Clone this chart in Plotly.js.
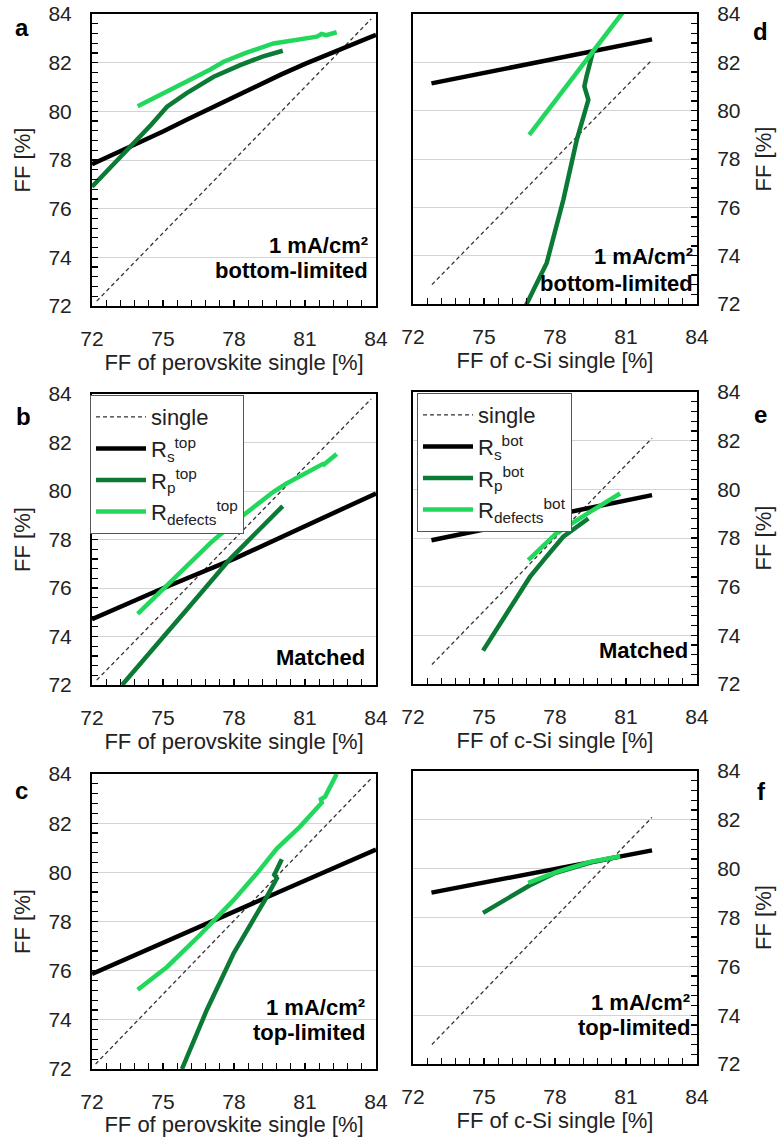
<!DOCTYPE html>
<html>
<head>
<meta charset="utf-8">
<script src="https://cdn.plot.ly/plotly-3.0.1.min.js"></script>
<style>html,body{margin:0;padding:0;background:#fff;}#chart{width:778px;height:1137px;}</style>
</head>
<body>
<div id="chart"></div>
<script>
// ---------- Data ----------
// Panel a: 1 mA/cm2, bottom-limited, vs FF of perovskite single
const a_single_x = [72.2, 83.8];
const a_single_y = [72.2, 83.8];
const a_Rs_x = [72, 73, 74, 75, 76, 77, 78, 79, 80, 81, 82, 83, 84];
const a_Rs_y = [77.83, 78.27, 78.72, 79.17, 79.65, 80.12, 80.6, 81.07, 81.52, 81.95, 82.35, 82.75, 83.14];
const a_Rp_x = [72, 73, 73.76, 74.5, 75.17, 76, 77.14, 78.26, 79.2, 80.06];
const a_Rp_y = [76.9, 77.9, 78.68, 79.45, 80.19, 80.75, 81.42, 81.9, 82.25, 82.49];
const a_Rd_x = [73.93, 75, 76.01, 77, 77.56, 78.5, 79.67, 80.5, 81.5, 81.7, 81.9, 82.34];
const a_Rd_y = [80.21, 80.72, 81.22, 81.72, 82.04, 82.4, 82.79, 82.9, 83.07, 83.18, 83.13, 83.25];

// Panel d: 1 mA/cm2, bottom-limited, vs FF of c-Si single
const d_single_x = [72.8, 82.1];
const d_single_y = [72.8, 82.1];
const d_Rs_x = [72.78, 76.24, 79.6, 82.1];
const d_Rs_y = [81.13, 81.8, 82.48, 82.95];
const d_Rp_x = [76.75, 77.65, 78.35, 78.92, 79.41, 79.24, 79.33, 79.55, 79.62];
const d_Rp_y = [71.9, 73.7, 76.3, 78.79, 80.45, 81.0, 81.41, 82.37, 82.51];
const d_Rd_x = [76.91, 79.6, 80.85];
const d_Rd_y = [79.0, 82.44, 84.05];

// Panel b: matched, vs FF of perovskite single
const b_single_x = [72.2, 83.8];
const b_single_y = [72.2, 83.8];
const b_Rs_x = [72, 75, 78, 81, 84];
const b_Rs_y = [74.71, 75.99, 77.2, 78.55, 79.9];
const b_Rp_x = [73.27, 74, 75, 76, 77, 77.84, 78.5, 79.2, 79.75, 79.9, 79.8, 80.06];
const b_Rp_y = [72, 72.85, 73.97, 75.1, 76.25, 77.2, 77.85, 78.55, 79.05, 79.25, 79.15, 79.38];
const b_Rd_x = [73.93, 75, 76, 77, 78, 79, 79.67, 80.2, 80.79, 81.5, 81.8, 81.75, 82.34];
const b_Rd_y = [74.93, 75.95, 76.95, 77.85, 78.7, 79.45, 79.97, 80.3, 80.6, 80.97, 81.14, 81.05, 81.53];

// Panel e: matched, vs FF of c-Si single
const e_single_x = [72.8, 82.1];
const e_single_y = [72.8, 82.1];
const e_Rs_x = [72.78, 77.4, 82.1];
const e_Rs_y = [77.91, 78.85, 79.76];
const e_Rp_x = [74.96, 75.95, 76.94, 77.58, 78.35, 79.41];
const e_Rp_y = [73.37, 74.9, 76.4, 77.16, 78.05, 78.8];
const e_Rd_x = [76.87, 78.07, 79.48, 80.75];
const e_Rd_y = [77.09, 78.2, 79.07, 79.83];

// Panel c: 1 mA/cm2, top-limited, vs FF of perovskite single
const c_single_x = [72.15, 83.82];
const c_single_y = [72.2, 83.84];
const c_Rs_x = [72, 75, 78, 81, 84];
const c_Rs_y = [75.87, 77.13, 78.4, 79.66, 80.93];
const c_Rp_x = [75.8, 76.85, 77.98, 78.82, 79.39, 79.81, 79.7, 79.78, 80.02];
const c_Rp_y = [72, 74.4, 76.7, 78.06, 79.01, 79.76, 79.9, 80.05, 80.53];
const c_Rd_x = [73.93, 75.17, 76.57, 77.98, 78.96, 79.81, 80.79, 81.71, 81.67, 81.85, 82.34];
const c_Rd_y = [75.22, 76.15, 77.46, 78.87, 79.95, 80.97, 81.86, 82.83, 82.97, 83.08, 84.0];

// Panel f: 1 mA/cm2, top-limited, vs FF of c-Si single
const f_single_x = [72.8, 82.1];
const f_single_y = [72.8, 82.1];
const f_Rs_x = [72.78, 77.4, 82.1];
const f_Rs_y = [79.02, 79.9, 80.75];
const f_Rp_x = [74.96, 76, 76.94, 78, 79.5, 80.75];
const f_Rp_y = [78.19, 78.8, 79.32, 79.82, 80.25, 80.5];
const f_Rd_x = [76.87, 78.07, 79.48, 80.75];
const f_Rd_y = [79.42, 79.87, 80.28, 80.51];

const x_tick_step = 3;
const y_tick_step = 2;
const x_title_top = 'FF of perovskite single [%]';
const x_title_bot = 'FF of c-Si single [%]';
const y_title = 'FF [%]';

// ---------- Styling ----------
const FONT = 'Liberation Sans, Arial, sans-serif';
const C_BLACK = '#000000';
const C_DARK = '#0b7a34';
const C_LIGHT = '#22d85c';

function panel(xa, ya, s, rs, rp, rd, legendId, tag) {
  const show = !!legendId;
  const common = {type: 'scatter', mode: 'lines', xaxis: xa, yaxis: ya, showlegend: show, hoverinfo: 'skip'};
  if (show) common.legend = legendId;
  return [
    Object.assign({}, common, {x: s[0], y: s[1], name: 'single', line: {color: '#333', width: 1.3, dash: '4px,3px'}}),
    Object.assign({}, common, {x: rs[0], y: rs[1], name: 'R<sub>s</sub><sup>' + tag + '</sup>', line: {color: C_BLACK, width: 4.5}}),
    Object.assign({}, common, {x: rp[0], y: rp[1], name: 'R<sub>p</sub><sup>' + tag + '</sup>', line: {color: C_DARK, width: 4.5}}),
    Object.assign({}, common, {x: rd[0], y: rd[1], name: 'R<sub>defects</sub><sup>' + tag + '</sup>', line: {color: C_LIGHT, width: 4.5}})
  ];
}

const data = [].concat(
  panel('x', 'y', [a_single_x, a_single_y], [a_Rs_x, a_Rs_y], [a_Rp_x, a_Rp_y], [a_Rd_x, a_Rd_y], null, 'top'),
  panel('x2', 'y2', [d_single_x, d_single_y], [d_Rs_x, d_Rs_y], [d_Rp_x, d_Rp_y], [d_Rd_x, d_Rd_y], null, 'bot'),
  panel('x3', 'y3', [b_single_x, b_single_y], [b_Rs_x, b_Rs_y], [b_Rp_x, b_Rp_y], [b_Rd_x, b_Rd_y], 'legend', 'top'),
  panel('x4', 'y4', [e_single_x, e_single_y], [e_Rs_x, e_Rs_y], [e_Rp_x, e_Rp_y], [e_Rd_x, e_Rd_y], 'legend2', 'bot'),
  panel('x5', 'y5', [c_single_x, c_single_y], [c_Rs_x, c_Rs_y], [c_Rp_x, c_Rp_y], [c_Rd_x, c_Rd_y], null, 'top'),
  panel('x6', 'y6', [f_single_x, f_single_y], [f_Rs_x, f_Rs_y], [f_Rp_x, f_Rp_y], [f_Rd_x, f_Rd_y], null, 'bot')
);

const W = 778, H = 1137;
function xd(l, r) { return [l / W, r / W]; }
function yd(t, b) { return [1 - b / H, 1 - t / H]; }

function xaxis(dom, anchor, title) {
  return {
    domain: dom, anchor: anchor, range: [72, 84], tickmode: 'linear', tick0: 72, dtick: x_tick_step,
    ticks: 'inside', ticklen: 6, tickwidth: 1.2, tickcolor: '#000',
    minor: {tickmode: 'linear', tick0: 72, dtick: 0.6, ticks: 'inside', ticklen: 6, tickwidth: 1.2, tickcolor: '#000', showgrid: false},
    showline: true, linecolor: '#000', linewidth: 2, mirror: true,
    showgrid: false, zeroline: false, ticklabelstandoff: 13,
    tickfont: {family: FONT, size: 21, color: '#222'},
    title: {text: title, font: {family: FONT, size: 22, color: '#222'}, standoff: 0}
  };
}
function yaxis(dom, anchor, side) {
  return {
    domain: dom, anchor: anchor, side: side, range: [72, 84], tickmode: 'linear', tick0: 72, dtick: y_tick_step,
    ticks: 'inside', ticklen: 6, tickwidth: 1.2, tickcolor: '#000',
    minor: {tickmode: 'linear', tick0: 72, dtick: 0.4, ticks: 'inside', ticklen: 6, tickwidth: 1.2, tickcolor: '#000', showgrid: false},
    showline: true, linecolor: '#000', linewidth: 2, mirror: true,
    showgrid: true, gridcolor: '#d4d4d4', gridwidth: 1, zeroline: false, ticklabelstandoff: 14,
    tickfont: {family: FONT, size: 21, color: '#222'},
    title: {text: y_title, font: {family: FONT, size: 22, color: '#222'}, standoff: side === 'right' ? 16 : 12}
  };
}

const L = xd(92, 376), R = xd(413, 697);

function note(text, x, y) {
  return {xref: 'paper', yref: 'paper', x: x, y: y, xanchor: 'right', yanchor: 'middle', showarrow: false,
    text: '<b>' + text + '</b>', font: {family: FONT, size: 22, color: '#000'}};
}
function letter(text, x, y) {
  return {xref: 'paper', yref: 'paper', x: x, y: y, xanchor: 'center', yanchor: 'middle', showarrow: false,
    text: '<b>' + text + '</b>', font: {family: FONT, size: 24, color: '#000'}};
}

const legendCommon = {
  bgcolor: '#ffffff', bordercolor: '#555', borderwidth: 1, xanchor: 'left', yanchor: 'top',
  font: {family: FONT, size: 22, color: '#222'}, itemwidth: 50, tracegroupgap: 0
};

const layout = {
  width: W, height: H, margin: {l: 0, r: 0, t: 0, b: 0},
  paper_bgcolor: '#fff', plot_bgcolor: '#fff', showlegend: true,
  font: {family: FONT, color: '#222'},
  xaxis: xaxis(L, 'y', x_title_top), yaxis: yaxis(yd(14, 306), 'x', 'left'),
  xaxis2: xaxis(R, 'y2', x_title_bot), yaxis2: yaxis(yd(14, 304), 'x2', 'right'),
  xaxis3: xaxis(L, 'y3', x_title_top), yaxis3: yaxis(yd(394, 685), 'x3', 'left'),
  xaxis4: xaxis(R, 'y4', x_title_bot), yaxis4: yaxis(yd(392, 684), 'x4', 'right'),
  xaxis5: xaxis(L, 'y5', x_title_top), yaxis5: yaxis(yd(774, 1069), 'x5', 'left'),
  xaxis6: xaxis(R, 'y6', x_title_bot), yaxis6: yaxis(yd(771, 1064), 'x6', 'right'),
  legend: Object.assign({}, legendCommon, {x: 90 / W, y: 1 - 395 / H}),
  legend2: Object.assign({}, legendCommon, {x: 417 / W, y: 1 - 393 / H}),
  annotations: [
    letter('a', 22 / W, 1 - 27 / H), letter('d', 760 / W, 1 - 32 / H),
    letter('b', 23 / W, 1 - 417 / H), letter('e', 760 / W, 1 - 414 / H),
    letter('c', 21 / W, 1 - 790 / H), letter('f', 761 / W, 1 - 791 / H),
    note('1 mA/cm²', 370 / W, 1 - 245 / H), note('bottom-limited', 370 / W, 1 - 270 / H),
    note('1 mA/cm²', 695 / W, 1 - 257 / H), note('bottom-limited', 695 / W, 1 - 283 / H),
    note('Matched', 367 / W, 1 - 657 / H), note('Matched', 690 / W, 1 - 650 / H),
    note('1 mA/cm²', 367 / W, 1 - 1007 / H), note('top-limited', 367 / W, 1 - 1032 / H),
    note('1 mA/cm²', 692 / W, 1 - 1002 / H), note('top-limited', 692 / W, 1 - 1027 / H)
  ]
};

Plotly.newPlot('chart', data, layout, {staticPlot: true, displayModeBar: false});
</script>
</body>
</html>
